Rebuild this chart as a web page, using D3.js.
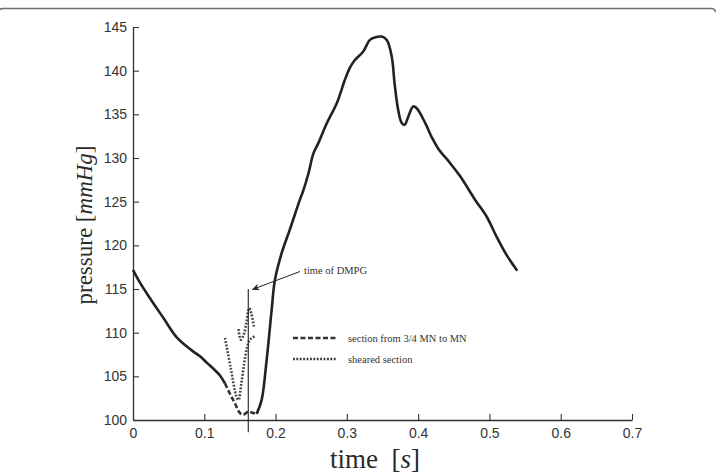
<!DOCTYPE html>
<html>
<head>
<meta charset="utf-8">
<script src="https://cdn.jsdelivr.net/npm/d3@7"></script>
<style>
  body { margin: 0; background: white; }
</style>
</head>
<body>
<div id="container"></div>
<script>
/* CONSTANTS AND GLOBALS */
const width = 716;
const height = 476;
const margin = { top: 27, right: 84, bottom: 56, left: 133 };

/* DATA */
// solid pressure curve, before the dashed section
const preTime = [0, 0.010, 0.025, 0.0425, 0.061, 0.082, 0.094, 0.103, 0.115, 0.122, 0.129];
const prePressure = [117.2, 115.7, 113.8, 111.7, 109.5, 108.0, 107.3, 106.6, 105.7, 105.1, 104.2];

// section from 3/4 MN to MN (dashed)
const mnTime = [0.129, 0.136, 0.143, 0.150, 0.1547, 0.1617, 0.1687, 0.1735];
const mnPressure = [104.2, 103.0, 101.9, 100.8, 100.6, 100.95, 100.8, 100.7];

// solid pressure curve, after the dashed section
const postTime = [0.1735, 0.1805, 0.1875, 0.1945, 0.199, 0.2085, 0.220, 0.234, 0.239, 0.246, 0.253,
  0.260, 0.272, 0.286, 0.297, 0.304, 0.311, 0.323, 0.332, 0.339, 0.349, 0.356, 0.363, 0.367,
  0.372, 0.377, 0.381, 0.386, 0.393, 0.398, 0.410, 0.419, 0.428, 0.445, 0.459, 0.480, 0.496,
  0.510, 0.524, 0.539];
const postPressure = [100.7, 102.3, 106.9, 112.6, 116.0, 119.1, 121.8, 125.2, 126.3, 128.2, 130.5,
  131.7, 134.0, 136.3, 138.9, 140.3, 141.2, 142.2, 143.5, 143.8, 143.9, 143.5, 141.6, 138.5,
  135.5, 134.0, 133.8, 134.7, 135.9, 135.7, 134.0, 132.4, 131.1, 129.4, 127.9, 125.2, 123.3,
  121.0, 118.9, 117.1];

// sheared section (dotted), two pieces
const shearTimeA = [0.129, 0.137, 0.145, 0.148, 0.152, 0.156, 0.160, 0.164, 0.171];
const shearPressureA = [109.4, 106.0, 102.7, 102.3, 104.2, 106.5, 108.3, 109.2, 109.6];
const shearTimeB = [0.148, 0.151, 0.155, 0.159, 0.163, 0.166, 0.170];
const shearPressureB = [110.4, 109.2, 109.7, 111.1, 112.8, 112.2, 110.5];

// time of DMPG marker
const dmpgTime = 0.1617;
const dmpgTop = 115;
const dmpgBottom = 98.6;

const xTicks = [0, 0.1, 0.2, 0.3, 0.4, 0.5, 0.6, 0.7];
const yTicks = [100, 105, 110, 115, 120, 125, 130, 135, 140, 145];

const legendLabels = ["section from 3/4 MN to MN", "sheared section"];

/* SVG */
const svg = d3.select("#container")
  .append("svg")
  .attr("width", width)
  .attr("height", height)
  .style("background-color", "white");

// frame line at the very top
svg.append("path")
  .attr("d", "M0,10 Q0,8.5 3,8.5 L711,8.5 Q715,8.5 715.5,12")
  .attr("fill", "none")
  .attr("stroke", "#6e6e6e")
  .attr("stroke-width", 1.6);

/* SCALES */
const xScale = d3.scaleLinear()
  .domain([0, 0.7])
  .range([margin.left, width - margin.right]);

const yScale = d3.scaleLinear()
  .domain([100, 145])
  .range([height - margin.bottom, margin.top]);

/* AXES */
const xAxis = d3.axisBottom(xScale)
  .tickValues(xTicks)
  .tickSizeInner(-6)
  .tickSizeOuter(0)
  .tickPadding(5)
  .tickFormat(d => d === 0 ? "0" : d3.format(".1f")(d));

const yAxis = d3.axisLeft(yScale)
  .tickValues(yTicks)
  .tickSizeInner(-6)
  .tickSizeOuter(0)
  .tickPadding(6);

const gx = svg.append("g")
  .attr("transform", `translate(0,${height - margin.bottom})`)
  .call(xAxis);

const gy = svg.append("g")
  .attr("transform", `translate(${margin.left},0)`)
  .call(yAxis);

[gx, gy].forEach(g => {
  g.select(".domain").attr("stroke", "#333").attr("stroke-width", 1.3);
  g.selectAll(".tick line").attr("stroke", "#333").attr("stroke-width", 1.1);
  g.selectAll(".tick text")
    .attr("fill", "#333")
    .style("font-family", "'Liberation Sans', Arial, sans-serif")
    .style("font-size", "14px");
});
gx.selectAll(".tick text").attr("dy", "0.9em");

// axis labels
svg.append("text")
  .attr("x", 375)
  .attr("y", 468)
  .attr("text-anchor", "middle")
  .style("font-family", "'Liberation Serif', 'DejaVu Serif', serif")
  .style("font-size", "27px")
  .attr("fill", "#2a2a2a")
  .html("time&#8194;[<tspan font-style='italic'>s</tspan>]");

svg.append("text")
  .attr("transform", "translate(92,225) rotate(-90)")
  .attr("text-anchor", "middle")
  .style("font-family", "'Liberation Serif', 'DejaVu Serif', serif")
  .style("font-size", "23px")
  .attr("fill", "#2a2a2a")
  .html("pressure [<tspan font-style='italic'>mmHg</tspan>]");

/* LINES */
const line = d3.line()
  .x(d => xScale(d[0]))
  .y(d => yScale(d[1]))
  .curve(d3.curveCatmullRom.alpha(0.5));

const zip = (t, p) => t.map((d, i) => [d, p[i]]);

svg.append("path")
  .datum(zip(preTime, prePressure))
  .attr("d", line)
  .attr("fill", "none")
  .attr("stroke", "#222")
  .attr("stroke-width", 2.6);

svg.append("path")
  .datum(zip(postTime, postPressure))
  .attr("d", line)
  .attr("fill", "none")
  .attr("stroke", "#222")
  .attr("stroke-width", 2.6);

svg.append("path")
  .datum(zip(mnTime, mnPressure))
  .attr("d", line)
  .attr("fill", "none")
  .attr("stroke", "#333")
  .attr("stroke-width", 2.6)
  .attr("stroke-dasharray", "5,2.5");

[zip(shearTimeA, shearPressureA), zip(shearTimeB, shearPressureB)].forEach(pts => {
  svg.append("path")
    .datum(pts)
    .attr("d", line)
    .attr("fill", "none")
    .attr("stroke", "#444")
    .attr("stroke-width", 2.6)
    .attr("stroke-dasharray", "1.8,1.6");
});

// DMPG vertical marker
svg.append("line")
  .attr("x1", xScale(dmpgTime))
  .attr("x2", xScale(dmpgTime))
  .attr("y1", yScale(dmpgTop))
  .attr("y2", yScale(dmpgBottom))
  .attr("stroke", "#222")
  .attr("stroke-width", 1.1);

// arrow + annotation
svg.append("defs").append("marker")
  .attr("id", "arrow")
  .attr("viewBox", "0 0 10 10")
  .attr("refX", 10)
  .attr("refY", 5)
  .attr("markerWidth", 9)
  .attr("markerHeight", 7)
  .attr("markerUnits", "userSpaceOnUse")
  .attr("orient", "auto")
  .append("path")
  .attr("d", "M0,0 L10,5 L0,10 L3,5 Z")
  .attr("fill", "#222");

svg.append("line")
  .attr("x1", 300)
  .attr("y1", 271.5)
  .attr("x2", xScale(dmpgTime) + 4)
  .attr("y2", yScale(dmpgTop) + 0.5)
  .attr("stroke", "#222")
  .attr("stroke-width", 1)
  .attr("marker-end", "url(#arrow)");

svg.append("text")
  .attr("x", 304)
  .attr("y", 274)
  .style("font-family", "'Liberation Serif', 'DejaVu Serif', serif")
  .style("font-size", "10.5px")
  .attr("fill", "#333")
  .text("time of DMPG");

/* LEGEND */
const legend = svg.append("g");
const legendY = [338, 359];
const legendDash = ["5,2.5", "1.8,1.6"];

legendLabels.forEach((label, i) => {
  legend.append("line")
    .attr("x1", 293)
    .attr("x2", 337)
    .attr("y1", legendY[i])
    .attr("y2", legendY[i])
    .attr("stroke", "#333")
    .attr("stroke-width", 2.6)
    .attr("stroke-dasharray", legendDash[i]);
  legend.append("text")
    .attr("x", 348)
    .attr("y", legendY[i] + 3.5)
    .style("font-family", "'Liberation Serif', 'DejaVu Serif', serif")
    .style("font-size", "10.5px")
    .attr("fill", "#333")
    .text(label);
});
</script>
</body>
</html>
